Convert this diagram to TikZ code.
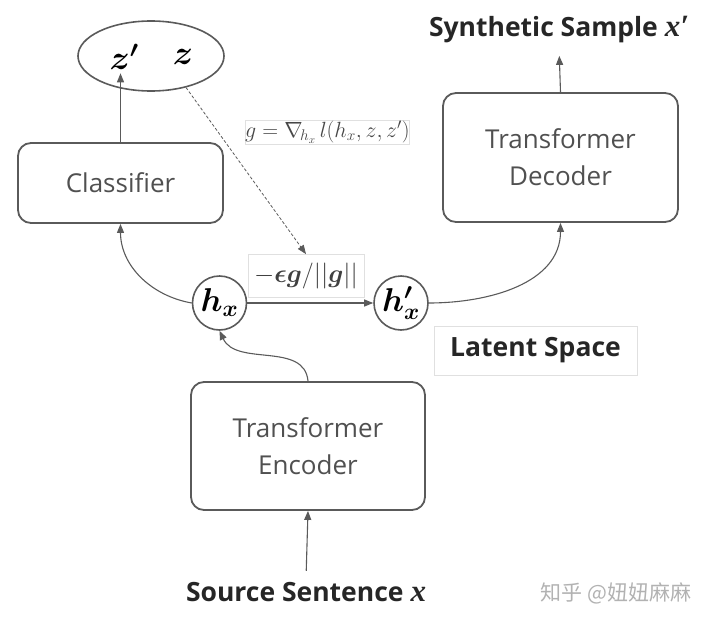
\documentclass[tikz,border=0pt]{standalone}
\usepackage{fix-cm}
\usepackage{amsmath}
\usepackage{bm}
\usepackage{fontspec}
\setsansfont{Open Sans}
\newfontfamily\cjk{Noto Sans CJK SC}
\newfontfamily\bmit{Liberation Serif}
\usepackage{tikz}
\usetikzlibrary{arrows.meta,shapes.geometric}
\definecolor{linegray}{HTML}{5A5A5A}
\definecolor{textgray}{HTML}{505050}

\begin{document}
\begin{tikzpicture}[x=1pt,y=-1pt]
	\tikzset{block/.style={draw=linegray,line width=1.8pt,rounded corners=13pt,align=center,text=textgray,inner sep=0pt,font=\sffamily\fontsize{26}{37}\selectfont}}
	\tikzset{latent/.style={circle,draw=linegray,line width=1.6pt,minimum size=54pt,inner sep=0pt,font=\fontsize{33}{36}\selectfont}}
	\tikzset{lab/.style={font=\sffamily\bfseries\fontsize{26.5}{30}\selectfont,text=black!85}}
	\tikzset{tag/.style={draw=black!12,line width=0.8pt}}
	\tikzset{conn/.style={draw=linegray,line width=1.1pt,-{Triangle[length=9pt,width=7pt]}}}
%	\tikzset{every node/.style={draw=red}}

\useasboundingbox (0,0) rectangle (720,621);

\node[ellipse,draw=linegray,line width=1.6pt,minimum width=146pt,minimum height=70pt] (out) at (151,56) {};
\node[font=\fontsize{34}{38}\selectfont] (zp) at (124,57) {$\bm{z'}$};
\node[font=\fontsize{34}{38}\selectfont] (z) at (183,57) {$\bm{z}$};

\node[block,minimum width=205pt,minimum height=80pt] (clf) at (120.5,183) {Classifier};
\node[block,minimum width=235pt,minimum height=129pt] (dec) at (560.5,157.5) {Transformer\\Decoder};
\node[block,minimum width=234pt,minimum height=128pt] (enc) at (308,446) {Transformer\\Encoder};

\node[latent] (hx) at (219.5,303) {$\bm{h_x}$};
\node[latent] (hxp) at (401,303) {$\bm{h'_x}$};

\node[tag,text=black!72,minimum width=161pt,minimum height=24pt,inner sep=0pt,font=\fontsize{22}{24}\selectfont] (grad) at (327.5,132) {$g=\nabla_{\!h_x}\, l(h_x,z,z')$};
\node[tag,text=black!75,minimum width=116pt,minimum height=43pt,inner sep=0pt,font=\fontsize{26}{28}\selectfont] (eps) at (306,276) {$-\bm{\epsilon g}/||\bm{g}||$};

\node[lab] (synth) at (559,30) {Synthetic Sample {\bmit\itshape\fontsize{31}{32}\selectfont x′}};
\node[lab] (src) at (306,592) {Source Sentence {\bmit\itshape\fontsize{31}{32}\selectfont x}};
\node[lab,tag,minimum width=203pt,minimum height=49pt] (space) at (535.5,350.5) {Latent Space};
\node[text=black!30,font=\cjk\fontsize{21}{24}\selectfont] (mark) at (616,593) {知乎 @妞妞麻麻};

% connectors
\draw[conn] (clf.north) -- (clf.north |- zp.south);
\draw[conn,line width=0.8pt,dash pattern=on 3pt off 2pt] (out.-42) -- (eps.north);
\draw[conn] (hx) -- (hxp);
\draw[conn] (hx.west) to[out=170,in=-90] (clf.south);
\draw[conn] (hxp.east) to[out=0,in=-90] (dec.south);
\draw[conn] (enc.north) to[out=95,in=-65] (hx.south);
\draw[conn,shorten <=8pt] (src.north) -- (enc.south);
\draw[conn,shorten >=9pt] (dec.north) -- (synth.south);

	\end{tikzpicture}
\end{document}
